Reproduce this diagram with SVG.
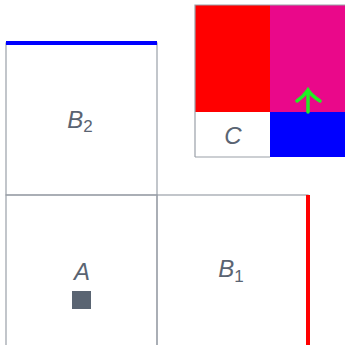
<svg xmlns="http://www.w3.org/2000/svg" width="345" height="345" viewBox="0 0 345 345">
<style>
.cell{fill:none;stroke:#9aa0a8;stroke-width:1.2}
.lbl{font-family:"Liberation Sans",Arial,sans-serif;font-style:italic;font-size:24px;fill:#5a6472;text-anchor:middle}
.sub{font-size:17px;font-style:normal}
</style>
<rect width="345" height="345" fill="#fff"/>
<g id="grid">
<rect class="cell" x="6" y="43" width="151" height="152"/>
<rect class="cell" x="6" y="195" width="151" height="160"/>
<rect class="cell" x="157" y="195" width="151" height="160"/>
</g>
<g id="panel">
<rect x="195" y="5" width="75" height="107" fill="#ff0000"/>
<rect x="270" y="5" width="75" height="107" fill="#ea088a"/>
<rect x="270" y="112" width="75" height="45" fill="#0000ff"/>
<rect x="195" y="112" width="75" height="45" fill="#fff"/>
<path d="M195,157V5H345" fill="none" stroke="#9aa0a8" stroke-width="1.2"/>
<path d="M195,157H270" fill="none" stroke="#9aa0a8" stroke-width="1.2"/>
</g>
<g id="B2"><text class="lbl" x="80" y="128">B<tspan class="sub" dy="4">2</tspan></text></g>
<g id="A"><text class="lbl" x="82" y="280">A</text><rect x="72" y="291" width="19" height="18" fill="#5a6472"/></g>
<g id="B1"><text class="lbl" x="231" y="277">B<tspan class="sub" dy="5">1</tspan></text></g>
<g id="C"><text class="lbl" x="233" y="144">C</text></g>
<g id="connectors">
<line x1="6" y1="43" x2="157" y2="43" stroke="#0000ff" stroke-width="4"/>
<line x1="308" y1="195" x2="308" y2="345" stroke="#ff0000" stroke-width="4"/>
<path d="M308,112V90M297,101Q304,96 308,90Q312,96 320,101" fill="none" stroke="#22ee22" stroke-width="3.5" stroke-linecap="round"/>
</g>
</svg>
